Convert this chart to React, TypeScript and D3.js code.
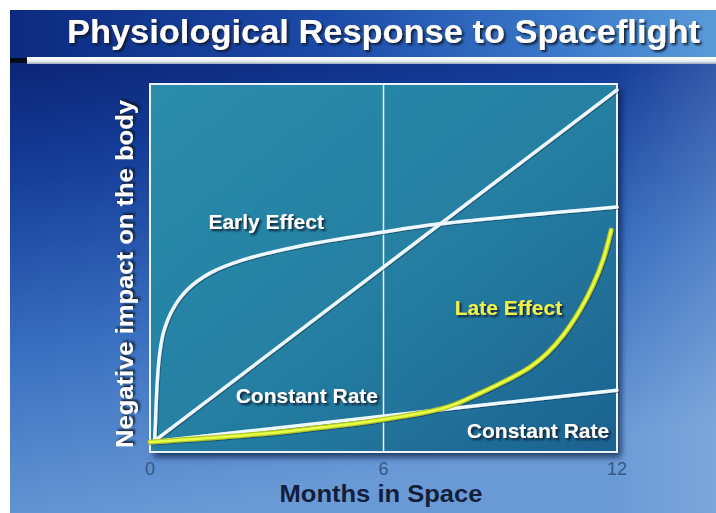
import React from "react";
import * as d3 from "d3";

const W = 716;
const H = 513;

const xTicks = [0, 6, 12];

// month, value (0-100 scale of negative impact)
const earlyMonths = [0.12, 0.14, 0.17, 0.22, 0.28, 0.36, 0.57, 0.95, 1.54, 2.39, 3.86, 6, 7.46, 12];
const earlyValues = [3.3, 8, 16, 24, 29, 33, 38.5, 44, 48.6, 52.2, 56, 59.8, 62, 66.6];

const steepMonths = [0.15, 12];
const steepValues = [3.3, 98.4];

const shallowMonths = [0, 12];
const shallowValues = [2.7, 16.8];

const lateMonths = [0, 2.5, 4, 5.9, 7.63, 8.48, 9.33, 9.77, 10.21, 10.62, 11.05, 11.39, 11.65, 11.85];
const lateValues = [2.7, 4.6, 6.2, 8.7, 12.2, 16.0, 20.4, 23.1, 26.9, 31.8, 38.6, 45.5, 52.5, 60.3];

const labels = [
  { text: "Early Effect", m: 4.47, v: 60.6, color: "#ffffff" },
  { text: "Constant Rate", m: 5.86, v: 13.3, color: "#ffffff" },
  { text: "Late Effect", m: 10.59, v: 37.2, color: "#eef24a" },
  { text: "Constant Rate", m: 11.8, v: 3.8, color: "#ffffff" },
];

const plot = { left: 150, right: 617, top: 84, bottom: 452 };

export default function App() {
  const x = d3.scaleLinear().domain([0, 12]).range([plot.left, plot.right]);
  const y = d3.scaleLinear().domain([0, 100]).range([plot.bottom, plot.top]);

  const mk = (ms: number[], vs: number[], curve: d3.CurveFactory) =>
    d3
      .line<number>()
      .x((_, i) => x(ms[i]))
      .y((d) => y(d))
      .curve(curve)(vs) as string;

  const smooth = d3.curveCatmullRom.alpha(0.5);
  const earlyPath = mk(earlyMonths, earlyValues, smooth);
  const steepPath = mk(steepMonths, steepValues, d3.curveLinear);
  const shallowPath = mk(shallowMonths, shallowValues, d3.curveLinear);
  const latePath = mk(lateMonths, lateValues, smooth);

  const font = "'Liberation Sans', Arial, sans-serif";

  return (
    <svg
      width={W}
      height={H}
      style={{ position: "absolute", left: 0, top: 0 }}
      xmlns="http://www.w3.org/2000/svg"
    >
      <defs>
        <linearGradient id="bg" x1="0" y1="0" x2="0.25" y2="1">
          <stop offset="0" stopColor="#081a66" />
          <stop offset="0.3" stopColor="#143c98" />
          <stop offset="0.65" stopColor="#3a70c0" />
          <stop offset="1" stopColor="#6a9ad6" />
        </linearGradient>
        <linearGradient id="bgR" x1="0" y1="0" x2="1" y2="0">
          <stop offset="0" stopColor="#000000" stopOpacity="0" />
          <stop offset="0.85" stopColor="#ffffff" stopOpacity="0.0" />
          <stop offset="1" stopColor="#ffffff" stopOpacity="0.12" />
        </linearGradient>
        <linearGradient id="titleBg" x1="0" y1="0" x2="1" y2="0">
          <stop offset="0" stopColor="#0c2a80" />
          <stop offset="0.45" stopColor="#1c4aa8" />
          <stop offset="0.8" stopColor="#3c7ccc" />
          <stop offset="1" stopColor="#5a9ad8" />
        </linearGradient>
        <linearGradient id="bar" x1="0" y1="0" x2="0" y2="1">
          <stop offset="0" stopColor="#ffffff" />
          <stop offset="0.6" stopColor="#e8eef4" />
          <stop offset="1" stopColor="#9aa8b8" />
        </linearGradient>
        <linearGradient id="plotBg" x1="0" y1="0" x2="1" y2="1">
          <stop offset="0" stopColor="#2b8cab" />
          <stop offset="0.5" stopColor="#2580a3" />
          <stop offset="1" stopColor="#1c6290" />
        </linearGradient>
        <filter id="shadow" x="-10%" y="-10%" width="130%" height="130%">
          <feDropShadow dx="4" dy="5" stdDeviation="3" floodColor="#04122e" floodOpacity="0.7" />
        </filter>
        <filter id="tshadow" x="-10%" y="-30%" width="130%" height="170%">
          <feDropShadow dx="2" dy="2" stdDeviation="0.8" floodColor="#0a1628" floodOpacity="0.9" />
        </filter>
        <filter id="glow" x="-10%" y="-10%" width="120%" height="120%">
          <feDropShadow dx="1" dy="1" stdDeviation="0.6" floodColor="#0a2a40" floodOpacity="0.5" />
        </filter>
      </defs>

      <rect x={0} y={0} width={W} height={H} fill="#ffffff" />
      <rect x={10} y={10} width={W - 10} height={H - 10} fill="url(#bg)" />
      <rect x={10} y={10} width={W - 10} height={H - 10} fill="url(#bgR)" />
      <rect x={10} y={10} width={W - 10} height={48} fill="url(#titleBg)" />
      <rect x={10} y={58} width={18} height={5} fill="#050a18" />
      <rect x={27} y={57} width={W - 27} height={7} fill="url(#bar)" />

      <text
        x={67}
        y={43}
        fill="#ffffff"
        fontFamily={font}
        fontWeight="bold"
        fontSize={33}
        textLength={633}
        lengthAdjust="spacingAndGlyphs"
        filter="url(#tshadow)"
      >
        Physiological Response to Spaceflight
      </text>

      <g filter="url(#shadow)">
        <rect
          x={plot.left}
          y={plot.top}
          width={plot.right - plot.left}
          height={plot.bottom - plot.top}
          fill="url(#plotBg)"
        />
      </g>
      <rect
        x={plot.left}
        y={plot.top}
        width={plot.right - plot.left}
        height={plot.bottom - plot.top}
        fill="none"
        stroke="#eaf4fa"
        strokeWidth={2}
      />
      <line
        x1={x(6)}
        x2={x(6)}
        y1={plot.top}
        y2={plot.bottom}
        stroke="#eaf4fa"
        strokeWidth={1.5}
      />

      <g fill="none" strokeLinecap="round" filter="url(#glow)">
        <path d={steepPath} stroke="#eef8ff" strokeWidth={3.5} />
        <path d={earlyPath} stroke="#eef8ff" strokeWidth={3.5} />
        <path d={shallowPath} stroke="#eef8ff" strokeWidth={3.5} />
        <path d={latePath} stroke="#b8c820" strokeWidth={5} />
        <path d={latePath} stroke="#e6ff4a" strokeWidth={2.5} />
      </g>

      {labels.map((l, i) => (
        <text
          key={i}
          x={x(l.m)}
          y={y(l.v)}
          textAnchor="end"
          fill={l.color}
          fontFamily={font}
          fontWeight="bold"
          fontSize={21}
          filter="url(#tshadow)"
        >
          {l.text}
        </text>
      ))}

      {xTicks.map((t) => (
        <text
          key={t}
          x={x(t)}
          y={475}
          textAnchor="middle"
          fill="#345888"
          fontFamily={font}
          fontSize={18}
        >
          {t}
        </text>
      ))}

      <text
        x={381}
        y={502}
        textAnchor="middle"
        fill="#121e3a"
        fontFamily={font}
        fontWeight="bold"
        fontSize={23}
        textLength={203}
        lengthAdjust="spacingAndGlyphs"
      >
        Months in Space
      </text>

      <text
        transform={`translate(133, ${274}) rotate(-90)`}
        textAnchor="middle"
        fill="#ffffff"
        fontFamily={font}
        fontWeight="bold"
        fontSize={24}
        textLength={348}
        lengthAdjust="spacingAndGlyphs"
        filter="url(#tshadow)"
      >
        Negative impact on the body
      </text>
    </svg>
  );
}
